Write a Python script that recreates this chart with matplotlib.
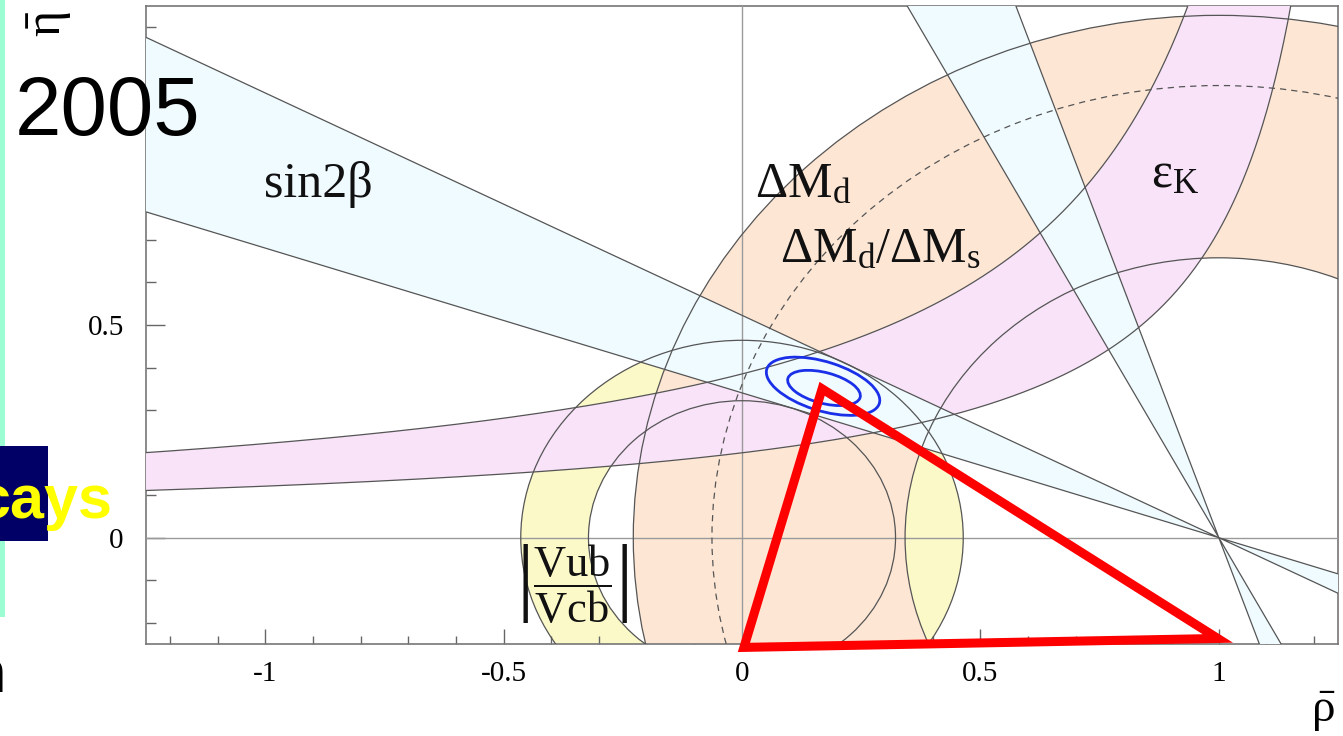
import numpy as np
import matplotlib
matplotlib.use("Agg")
import matplotlib.pyplot as plt
from matplotlib.patches import Wedge, Circle, Ellipse, Polygon, Rectangle
from matplotlib.ticker import MultipleLocator

W, H = 1343, 736

# ---------------- data ----------------
apex = [1.0, 0.0]                 # (rho, eta) apex of the sin2beta cones
beta_range = [18.8, 27.6]         # beta interval in degrees (sin2beta band)
dmd_radii = [0.658, 1.228]        # Delta M_d annulus around (1,0)
dms_radius = 1.063                # Delta M_d / Delta M_s limit (dashed)
vub_radii = [0.322, 0.464]        # |Vub/Vcb| annulus around (0,0)
# eps_K band edges: eta = k / (b - rho) + c  (upper edge, lower edge)
epsk_k = [0.520, 0.2496]
epsk_b = [1.351, 1.353]
epsk_c = [0.0, 0.015]
# CL contours (outer, inner)
cont_rho = [0.170, 0.172]
cont_eta = [0.356, 0.352]
cont_a = [0.1248, 0.0790]
cont_b = [0.0572, 0.0360]
cont_ang = [-19.85, -17.0]
# red triangle drawn over the plot
tri_rho = [0.004, 0.998, 0.168]
tri_eta = [-0.258, -0.237, 0.350]
xticks = [-1, -0.5, 0, 0.5, 1]
xticklabels = ["-1", "-0.5", "0", "0.5", "1"]
yticks = [0, 0.5, 1]
yticklabels = ["0", "0.5", ""]

# ---------------- style ----------------
plt.rcParams["font.family"] = ["Liberation Serif", "DejaVu Serif"]
plt.rcParams["mathtext.fontset"] = "custom"
plt.rcParams["mathtext.rm"] = "Liberation Serif"
plt.rcParams["mathtext.it"] = "Liberation Serif"
plt.rcParams["mathtext.default"] = "regular"

C_BLUE = "#F0FBFF"
C_PEACH = "#FDE6D4"
C_PINK = "#F8E3F8"
C_YEL = "#FBF9C8"
C_EDGE = "#555555"
LW = 0.9
LABEL_FS = 36

fig = plt.figure(figsize=(W / 100, H / 100), dpi=100)
fig.patch.set_facecolor("white")
ax = fig.add_axes([146 / W, 1 - 644 / H, (1338 - 146) / W, (644 - 6) / H])
ax.set_xlim(-1.25, 1.25)
ax.set_ylim(-0.25, 1.25)

# fills ---------------------------------------------------------
ax.add_patch(Wedge((0, 0), vub_radii[1], 0, 360, width=vub_radii[1] - vub_radii[0],
                   facecolor=C_YEL, edgecolor="none", zorder=1))
ax.add_patch(Wedge((apex[0], apex[1]), dmd_radii[1], 0, 360, width=dmd_radii[1] - dmd_radii[0],
                   facecolor=C_PEACH, edgecolor="none", zorder=2))


def epsk_curve(i):
    top = epsk_b[i] - epsk_k[i] / (1.45 - epsk_c[i])
    r = np.linspace(-1.4, top, 600)
    return r, epsk_k[i] / (epsk_b[i] - r) + epsk_c[i]


ru, eu = epsk_curve(0)
rl, el = epsk_curve(1)
poly = np.vstack([np.column_stack([ru, eu]), np.column_stack([rl[::-1], el[::-1]])])
ax.add_patch(Polygon(poly, closed=True, facecolor=C_PINK, edgecolor="none", zorder=3))

b0, b1 = beta_range
wedge_angles = [(180 - b1, 180 - b0), (360 - b1, 360 - b0),
                (90 + b0, 90 + b1), (270 + b0, 270 + b1)]
for t1, t2 in wedge_angles:
    ax.add_patch(Wedge((apex[0], apex[1]), 4.0, t1, t2, facecolor=C_BLUE,
                       edgecolor="none", zorder=4))

# reference lines
ax.axhline(0, color="#9a9a9a", lw=1.0, zorder=5)
ax.axvline(0, color="#9a9a9a", lw=1.0, zorder=5)

# edges ---------------------------------------------------------
for r in vub_radii:
    ax.add_patch(Circle((0, 0), r, fill=False, edgecolor=C_EDGE, lw=LW, zorder=6))
for r in dmd_radii:
    ax.add_patch(Circle((apex[0], apex[1]), r, fill=False, edgecolor=C_EDGE, lw=LW, zorder=6))
ax.add_patch(Circle((apex[0], apex[1]), dms_radius, fill=False, edgecolor=C_EDGE, lw=LW,
                    ls=(0, (5, 4)), zorder=6))
ax.plot(ru, eu, color=C_EDGE, lw=LW, zorder=6)
ax.plot(rl, el, color=C_EDGE, lw=LW, zorder=6)
for t1, t2 in wedge_angles:
    ax.add_patch(Wedge((apex[0], apex[1]), 4.0, t1, t2, facecolor="none",
                       edgecolor=C_EDGE, lw=LW, zorder=6))

# CL contours
for i in range(2):
    ax.add_patch(Ellipse((cont_rho[i], cont_eta[i]), 2 * cont_a[i], 2 * cont_b[i],
                         angle=cont_ang[i], fill=False, edgecolor="#1a2fe8", lw=2.0, zorder=7))

# labels inside plot
ax.text(-1.002, 0.80, "sin2β", fontsize=LABEL_FS, color="#111111", zorder=8)
ax.text(0.027, 0.80, r"$\Delta M_d$", fontsize=LABEL_FS, color="#111111", zorder=8)
ax.text(0.08, 0.648, r"$\Delta M_d/\Delta M_s$", fontsize=LABEL_FS, color="#111111", zorder=8)
ax.text(0.857, 0.825, r"$\varepsilon_K$", fontsize=LABEL_FS, color="#111111", zorder=8)
ax.text(-0.357, -0.11, r"$\left|\dfrac{Vub}{Vcb}\right|$", fontsize=32, color="#111111",
        ha="center", va="center", zorder=8)

# red triangle
ax.add_patch(Polygon(np.column_stack([tri_rho, tri_eta]), closed=True, fill=False,
                     edgecolor="#ff0000", lw=6.5, joinstyle="miter", zorder=10, clip_on=False))

# axes styling
for s in ax.spines.values():
    s.set_color("#777777")
    s.set_linewidth(1.2)
ax.set_xticks(xticks)
ax.set_xticklabels(xticklabels)
ax.set_yticks(yticks)
ax.set_yticklabels(yticklabels)
ax.xaxis.set_minor_locator(MultipleLocator(0.1))
ax.yaxis.set_minor_locator(MultipleLocator(0.1))
ax.tick_params(axis="x", which="major", direction="in", length=11, width=1.0, color="#666666",
               labelsize=21, pad=12)
ax.tick_params(axis="x", which="minor", direction="in", length=6, width=1.0, color="#666666")
ax.tick_params(axis="y", which="major", direction="in", length=14, width=1.0, color="#666666",
               labelsize=21, pad=16)
ax.tick_params(axis="y", which="minor", direction="in", length=7, width=1.0, color="#666666")

# axis titles
fig.text(50 / W, 1 - 24 / H, r"$\bar{\eta}$", rotation=90, fontsize=36, ha="center", va="center")
fig.text(1323 / W, 1 - 712 / H, r"$\bar{\rho}$", fontsize=34, ha="center", va="center")

# slide overlay pieces
fig.patches.append(Rectangle((0, 1 - 617 / H), 5 / W, 617 / H, transform=fig.transFigure,
                             facecolor="#9CFCD2", edgecolor="none", zorder=20))
fig.patches.append(Rectangle((0, 1 - 541 / H), 48 / W, 95 / H, transform=fig.transFigure,
                             facecolor="#000066", edgecolor="none", zorder=20))
fig.text(113 / W, 1 - 518 / H, "cays", ha="right", va="baseline", fontsize=44,
         fontweight="bold", color="#FFFF00", family="Liberation Sans", zorder=21)
fig.text(15 / W, 1 - 135 / H, "2005", ha="left", va="baseline", fontsize=60,
         color="black", family="Liberation Sans", zorder=21)
fig.text(6 / W, 1 - 692 / H, "n", ha="right", va="baseline", fontsize=44,
         fontweight="bold", color="black", family="Liberation Sans", zorder=21)

fig.savefig("out.png", dpi=100)
